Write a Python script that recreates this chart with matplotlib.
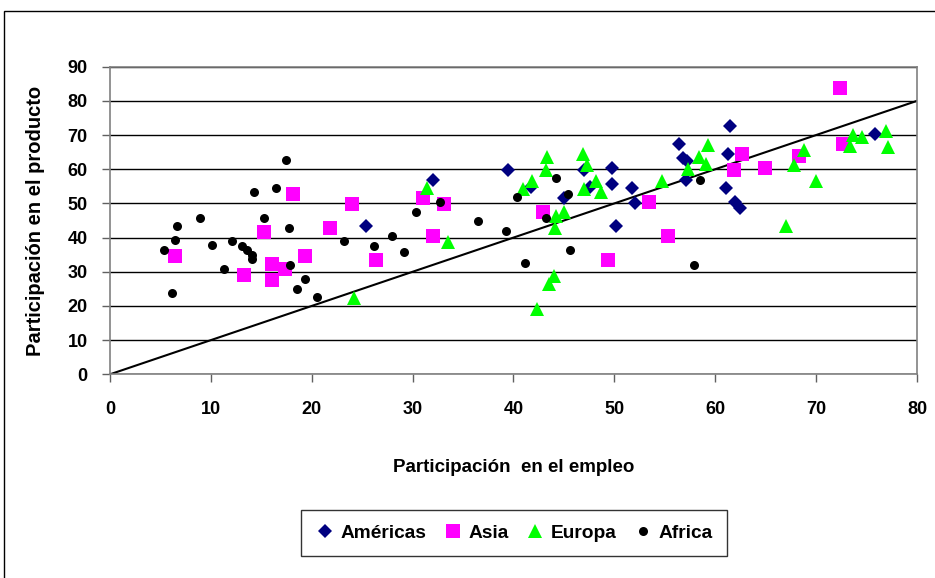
import matplotlib
matplotlib.use("Agg")
import matplotlib.pyplot as plt
from matplotlib.patches import Rectangle

plt.rcParams['font.family'] = ['Liberation Sans', 'DejaVu Sans']

# participación en el empleo (x) / en el producto (y)
americas_x = [32.0, 25.4, 39.5, 41.7, 45.0, 47.0, 47.6, 49.8, 49.8, 51.8, 52.0,
              50.2, 56.4, 56.8, 57.2, 57.1, 61.5, 61.3, 61.1, 62.0, 62.5, 75.8]
americas_y = [56.9, 43.4, 59.8, 54.7, 51.6, 59.8, 54.7, 60.3, 55.7, 54.6, 50.2,
              43.5, 67.3, 63.4, 62.5, 56.9, 72.7, 64.4, 54.5, 50.5, 48.8, 70.4]

asia_x = [18.1, 15.3, 6.4, 19.3, 16.1, 17.4, 13.3, 16.1, 24.0, 21.8, 26.4, 31.0,
          33.1, 32.0, 42.9, 53.4, 55.3, 49.4, 72.4, 62.7, 61.9, 64.9, 68.3, 72.7]
asia_y = [52.8, 41.7, 34.7, 34.7, 32.4, 30.7, 29.0, 27.7, 49.9, 42.9, 33.5, 51.6,
          49.9, 40.5, 47.6, 50.5, 40.6, 33.5, 83.7, 64.4, 59.8, 60.4, 63.9, 67.3]

europa_x = [43.3, 43.2, 46.9, 47.3, 41.8, 40.9, 48.2, 47.0, 48.7, 45.0, 44.2,
            44.1, 54.7, 57.3, 58.4, 59.3, 59.1, 44.0, 43.5, 42.3, 31.4, 33.5,
            24.2, 68.8, 67.8, 70.0, 67.0, 73.7, 74.6, 73.4, 76.9, 77.1]
europa_y = [63.7, 59.8, 64.4, 61.3, 56.6, 54.2, 56.6, 54.2, 53.2, 47.4, 46.2,
            42.9, 56.6, 60.1, 63.6, 67.1, 61.5, 28.7, 26.5, 19.2, 54.6, 38.7,
            22.3, 65.6, 61.2, 56.6, 43.3, 70.1, 69.5, 66.9, 71.2, 66.5]

africa_x = [17.5, 14.3, 16.5, 8.9, 6.6, 6.4, 5.4, 15.3, 17.7, 10.1, 12.1, 13.1,
            13.6, 14.1, 14.1, 11.3, 6.2, 17.8, 19.3, 18.5, 20.5, 23.2, 26.2,
            28.0, 29.1, 30.3, 32.7, 36.5, 39.3, 40.4, 44.2, 45.4, 43.2, 45.6,
            41.1, 58.5, 57.9]
africa_y = [62.8, 53.4, 54.5, 45.8, 43.4, 39.4, 36.5, 45.8, 42.9, 37.7, 39.0, 37.5,
            36.4, 34.8, 33.6, 30.8, 23.7, 31.9, 27.9, 24.9, 22.5, 38.9, 37.6,
            40.6, 35.9, 47.6, 50.5, 44.8, 41.9, 51.8, 57.4, 52.8, 45.8, 36.4,
            32.5, 56.9, 31.9]

diag = [0, 80]   # recta de 45 grados

fig = plt.figure(figsize=(9.35, 5.78), dpi=100)
ax = fig.add_axes([0.1176, 0.3524, 0.8631, 0.5322])

ax.plot(americas_x, americas_y, 'D', color='#000080', ms=6.8, mew=0, label='Américas', zorder=3)
ax.plot(asia_x, asia_y, 's', color='#FF00FF', ms=9.4, mew=0, label='Asia', zorder=3)
ax.plot(europa_x, europa_y, '^', color='#00FF00', ms=9.6, mew=0, label='Europa', zorder=3)
ax.plot(africa_x, africa_y, 'o', color='black', ms=6.5, mew=0, label='Africa', zorder=4)
ax.plot(diag, diag, color='black', lw=1.5, zorder=2)

ax.set_xlim(0, 80)
ax.set_ylim(0, 90)
ax.set_xticks(range(0, 81, 10))
ax.set_yticks(range(0, 91, 10))
ax.yaxis.grid(True, color='black', lw=1)
ax.set_axisbelow(True)
for s in ax.spines.values():
    s.set_color('#808080')
    s.set_linewidth(1.2)
ax.tick_params(direction='out', length=6, color='#606060', width=1, labelsize=13)
ax.tick_params(axis='x', pad=13)
ax.tick_params(axis='y', pad=10)
for lab in ax.get_xticklabels() + ax.get_yticklabels():
    lab.set_fontweight('bold')

ax.set_ylabel('Participación en el producto', fontsize=14.5, fontweight='bold', labelpad=16)
ax.set_xlabel('Participación  en el empleo', fontsize=13.5, fontweight='bold', labelpad=30)

leg = fig.legend(loc='center', bbox_to_anchor=(514 / 935, 1 - 533 / 578), ncol=4,
                 frameon=True, fancybox=False, edgecolor='black', handletextpad=0.3,
                 columnspacing=0.9, borderpad=0.75, handlelength=1.0,
                 prop={'weight': 'bold', 'size': 13.8})
leg.get_frame().set_linewidth(1)

# marco exterior del gráfico
fig.patches.append(Rectangle((4 / 935, -0.05), 1.2, 1 - 11 / 578 + 0.05,
                             transform=fig.transFigure, fill=False,
                             edgecolor='black', lw=1))

fig.savefig('out.png', dpi=100)
